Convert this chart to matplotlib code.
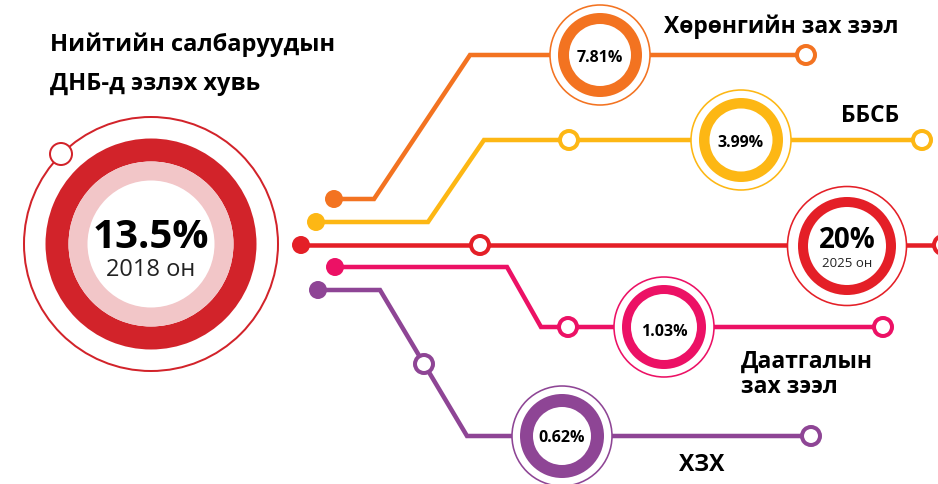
import matplotlib
matplotlib.use("Agg")
import matplotlib.pyplot as plt
from matplotlib.patches import Circle, Wedge

plt.rcParams['font.family'] = ['Open Sans', 'DejaVu Sans']

# --- data -------------------------------------------------------------
title = "Нийтийн салбаруудын\nДНБ-д эзлэх хувь"
sectors = ["Хөрөнгийн зах зээл", "ББСБ", "Даатгалын\nзах зээл", "ХЗХ"]
shares = [7.81, 3.99, 1.03, 0.62]          # % of GDP, 2018
total_2018 = 13.5
target_2025 = 20
year_now = "2018 он"
year_target = "2025 он"

sector_colors = ["#F37321", "#FDB714", "#EC1165", "#8E4595"]
red = "#E41F27"
dark_red = "#D2232A"
light_red = "#F2C6C8"

# --- layout (pixel space, y down) ---------------------------------------
routes = [
    [(334, 199), (374, 199), (470, 55), (806, 55)],
    [(316, 222), (428, 222), (484, 140), (922, 140)],
    [(335, 267), (507, 267), (541, 327), (883, 327)],
    [(318, 290), (380, 290), (467, 436), (811, 436)],
]
stops = [[(806, 55)], [(569, 140), (922, 140)], [(568, 327), (883, 327)],
         [(424, 364), (811, 436)]]
ring_pos = [(600, 55), (741, 140), (664, 327), (562, 436)]
ring_inner = [31, 31.5, 33, 29]
label_pos = [(664, 33), (841, 122), (741, 368), (679, 471)]
pct_base = [62, 147, 336, 442]

W, H = 938, 484
fig = plt.figure(figsize=(W / 100, H / 100), dpi=100)
ax = fig.add_axes([0, 0, 1, 1])
ax.set_xlim(0, W)
ax.set_ylim(H, 0)
ax.axis('off')

PT = 72 / 100  # px -> pt
LW = 4.5 * PT


def hollow(x, y, color, z=5):
    ax.add_patch(Circle((x, y), 9, facecolor='white', edgecolor=color, lw=4 * PT, zorder=z))


def dot(x, y, color):
    ax.add_patch(Circle((x, y), 9, facecolor=color, edgecolor='none', zorder=5))


def ring(x, y, color, r_thin, r_out, r_in):
    ax.add_patch(Circle((x, y), r_thin, facecolor='white', edgecolor=color, lw=1.6 * PT, zorder=3))
    ax.add_patch(Wedge((x, y), r_out, 0, 360, width=r_out - r_in, facecolor=color,
                       edgecolor='none', zorder=4))


# main red line (target)
ax.plot([301, W + 10], [245, 245], color=red, lw=LW, solid_capstyle='butt', zorder=2)
dot(301, 245, red)
hollow(480, 245, red)
hollow(943, 245, red)
ring(847, 246, red, 59.5, 49, 39)
ax.text(847, 248, f"{target_2025}%", ha='center', va='baseline', fontsize=20,
        fontweight='bold', zorder=6)
ax.text(847, 267, year_target, ha='center', va='baseline', fontsize=9.5, color='#222222', zorder=6)

# sector lines
for i, (name, val, col) in enumerate(zip(sectors, shares, sector_colors)):
    xs, ys = zip(*routes[i])
    ax.plot(xs, ys, color=col, lw=LW, solid_joinstyle='miter', solid_capstyle='butt', zorder=2)
    dot(xs[0], ys[0], col)
    for sx, sy in stops[i]:
        hollow(sx, sy, col)
    rx, ry = ring_pos[i]
    ring(rx, ry, col, 50, 42, ring_inner[i])
    ax.text(rx, pct_base[i], f"{val:.2f}%", ha='center', va='baseline', fontsize=11.5,
            fontweight='bold', zorder=6)
    lx, ly = label_pos[i]
    for k, part in enumerate(name.split("\n")):
        ax.text(lx, ly + 25 * k, part, ha='left', va='baseline', fontsize=16.5,
                fontweight='bold', zorder=6)

# big 2018 circle
cx, cy = 151, 244
ax.add_patch(Circle((cx, cy), 127, facecolor='white', edgecolor=dark_red, lw=2 * PT, zorder=3))
ax.add_patch(Wedge((cx, cy), 105.5, 0, 360, width=23, facecolor=dark_red, edgecolor='none', zorder=4))
ax.add_patch(Wedge((cx, cy), 82.5, 0, 360, width=19, facecolor=light_red, edgecolor='none', zorder=4))
ax.add_patch(Circle((61, 154), 11, facecolor='white', edgecolor=dark_red, lw=2 * PT, zorder=5))
ax.text(cx, 248, f"{total_2018}%", ha='center', va='baseline', fontsize=29,
        fontweight='bold', zorder=6)
ax.text(cx, 276, year_now, ha='center', va='baseline', fontsize=17, color='#222222', zorder=6)

# title
for k, part in enumerate(title.split("\n")):
    ax.text(50, 51 + 39 * k, part, ha='left', va='baseline', fontsize=17, fontweight='bold')

fig.savefig("out.png", dpi=100)
